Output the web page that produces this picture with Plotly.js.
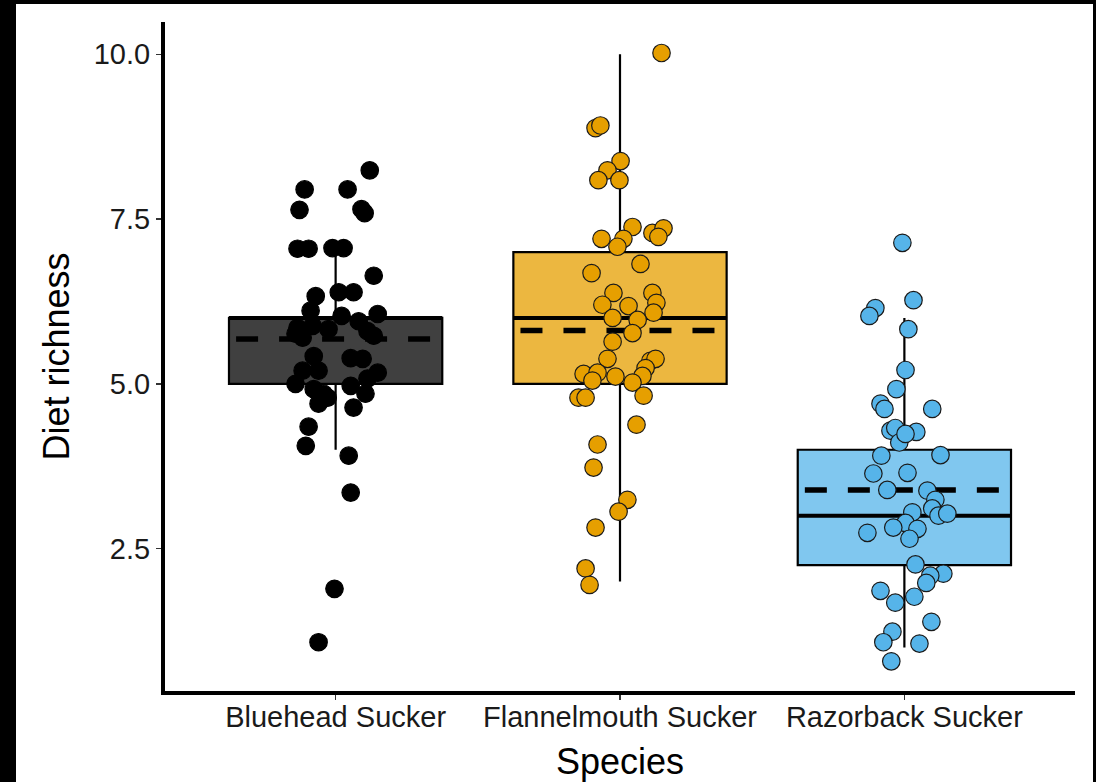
<!DOCTYPE html>
<html>
<head>
<meta charset="utf-8">
<script src="https://cdn.plot.ly/plotly-3.0.1.min.js"></script>
<style>
  html, body { margin: 0; padding: 0; background: #000; width: 1096px; height: 782px; overflow: hidden; }
  #chart { position: absolute; left: 16px; top: 4px; width: 1077px; height: 778px; background: #fff; }
</style>
</head>
<body>
<div id="chart"></div>
<script>
// ---- data ----
const categories = ['Bluehead Sucker', 'Flannelmouth Sucker', 'Razorback Sucker'];
const q1Values = [5, 5, 2.25];
const medianValues = [6, 6, 3];
const q3Values = [6, 7, 4];
const lowerWhiskers = [4, 2, 1];
const upperWhiskers = [7, 10, 6];
const meanValues = [5.68, 5.81, 3.39];

const blueheadRichness = [8.24, 7.95, 7.95, 7.64, 7.65, 7.59, 7.05, 7.05, 7.06, 7.06, 6.64, 6.33, 6.39, 6.39, 6.11, 6.03, 6.06, 5.95, 5.85, 5.88, 5.76, 5.70, 5.83, 5.80, 5.73, 5.42, 5.39, 5.38, 5.20, 5.20, 5.17, 5.08, 5.00, 4.97, 4.92, 4.85, 4.85, 4.70, 4.79, 4.64, 4.35, 4.06, 3.91, 3.35, 1.89, 1.08];
const blueheadJitter = [0.120, -0.109, 0.042, -0.127, 0.091, 0.102, -0.134, -0.095, -0.011, 0.028, 0.134, -0.070, 0.011, 0.063, -0.088, 0.021, 0.148, 0.081, -0.134, -0.081, -0.141, -0.116, -0.025, 0.112, 0.134, -0.077, 0.053, 0.095, -0.116, -0.060, 0.148, 0.112, -0.141, 0.053, -0.077, -0.042, 0.105, -0.060, -0.028, 0.063, -0.095, -0.105, 0.046, 0.053, -0.004, -0.060];

const flannelmouthRichness = [10.02, 8.88, 8.92, 8.38, 8.24, 8.09, 8.09, 7.38, 7.20, 7.20, 7.08, 7.29, 7.36, 7.23, 6.82, 6.68, 6.38, 6.20, 6.18, 6.38, 6.23, 6.08, 6.00, 5.97, 5.77, 5.64, 5.38, 5.35, 5.38, 5.24, 5.12, 5.15, 5.17, 5.05, 5.11, 5.02, 4.79, 4.79, 4.82, 4.38, 4.08, 3.73, 3.24, 3.06, 2.82, 2.20, 1.95];
const flannelmouthJitter = [0.146, -0.086, -0.069, 0.002, -0.044, -0.076, -0.002, 0.044, -0.065, 0.012, -0.009, 0.114, 0.153, 0.135, 0.072, -0.100, -0.023, -0.062, 0.030, 0.114, 0.128, 0.118, -0.026, 0.062, 0.044, -0.026, -0.044, 0.107, 0.125, 0.090, 0.079, -0.128, -0.079, -0.097, -0.016, 0.044, -0.146, -0.121, 0.083, 0.058, -0.079, -0.093, 0.026, -0.005, -0.086, -0.121, -0.107];

const razorbackRichness = [7.14, 6.27, 6.15, 6.03, 5.83, 5.21, 4.92, 4.70, 4.62, 4.62, 4.29, 4.33, 4.27, 4.11, 4.24, 3.91, 3.92, 3.64, 3.65, 3.39, 3.38, 3.24, 3.11, 3.00, 3.03, 3.05, 2.89, 2.82, 2.80, 2.74, 2.65, 2.26, 2.12, 2.09, 1.98, 1.86, 1.77, 1.68, 1.39, 1.24, 1.08, 1.06, 0.79];
const razorbackJitter = [-0.007, 0.032, -0.102, -0.123, 0.014, 0.004, -0.028, -0.084, -0.070, 0.098, -0.049, -0.032, 0.042, -0.018, 0.004, -0.081, 0.127, -0.109, 0.011, -0.060, 0.081, 0.109, 0.098, 0.120, 0.151, 0.028, 0.004, -0.039, 0.046, -0.130, 0.018, 0.039, 0.137, 0.091, 0.077, -0.084, 0.035, -0.032, 0.095, -0.042, -0.074, 0.053, -0.046];

// ---- styles ----
const boxFills = ['#404040', '#ECB740', '#80C7EF'];
const pointColors = ['#000000', '#E69F00', '#56B4E9'];
const pointOutlines = ['#000000', '#1a1a1a', '#1a1a1a'];
const fontFamily = 'Liberation Sans, Arial, Helvetica, sans-serif';

const groupValues = [blueheadRichness, flannelmouthRichness, razorbackRichness];
const groupJitter = [blueheadJitter, flannelmouthJitter, razorbackJitter];
const positions = categories.map((_, i) => i + 1);
const boxHalf = 0.375;
const meanHalf = 0.35;

const traces = [];
categories.forEach((name, i) => {
  traces.push({
    type: 'box', name: name, x: [positions[i]],
    q1: [q1Values[i]], median: [medianValues[i]], q3: [q3Values[i]],
    lowerfence: [lowerWhiskers[i]], upperfence: [upperWhiskers[i]],
    width: 0.75, whiskerwidth: 0, boxpoints: false, boxmean: false,
    fillcolor: boxFills[i], line: { color: '#000', width: 2.2 },
    hoverinfo: 'skip', showlegend: false
  });
});
categories.forEach((name, i) => {
  traces.push({
    type: 'scatter', mode: 'lines',
    x: [positions[i] - boxHalf, positions[i] + boxHalf],
    y: [medianValues[i], medianValues[i]],
    line: { color: '#000', width: 4 }, hoverinfo: 'skip', showlegend: false
  });
  traces.push({
    type: 'scatter', mode: 'lines',
    x: [positions[i] - meanHalf, positions[i] + meanHalf],
    y: [meanValues[i], meanValues[i]],
    line: { color: '#000', width: 5.5, dash: '22px,21px' }, hoverinfo: 'skip', showlegend: false
  });
});
categories.forEach((name, i) => {
  traces.push({
    type: 'scatter', mode: 'markers', name: name,
    x: groupJitter[i].map(j => positions[i] + j),
    y: groupValues[i],
    marker: { size: 17.5, color: pointColors[i], line: { color: pointOutlines[i], width: 1.2 } },
    showlegend: false
  });
});

const axisCommon = {
  showline: true, linecolor: '#000', linewidth: 4,
  ticks: 'outside', ticklen: 5, tickwidth: 1.5, tickcolor: '#333',
  tickfont: { family: fontFamily, size: 29, color: '#1a1a1a' },
  showgrid: false, zeroline: false, mirror: false
};

const layout = {
  width: 1077, height: 778,
  margin: { l: 149, r: 18, t: 18, b: 91 },
  paper_bgcolor: '#ffffff', plot_bgcolor: '#ffffff',
  boxmode: 'overlay',
  showlegend: false,
  xaxis: Object.assign({}, axisCommon, {
    type: 'linear', range: [0.4, 3.6],
    tickvals: positions, ticktext: categories,
    ticklabelstandoff: -8,
    title: { text: 'Species', font: { family: fontFamily, size: 36, color: '#000' }, standoff: 18 }
  }),
  yaxis: Object.assign({}, axisCommon, {
    type: 'linear', range: [0.34, 10.49],
    tick0: 0, dtick: 2.5, tickformat: '.1f',
    title: { text: 'Diet richness', font: { family: fontFamily, size: 36, color: '#000' }, standoff: 14 }
  })
};

Plotly.newPlot('chart', traces, layout, { staticPlot: true, displayModeBar: false });
</script>
</body>
</html>
